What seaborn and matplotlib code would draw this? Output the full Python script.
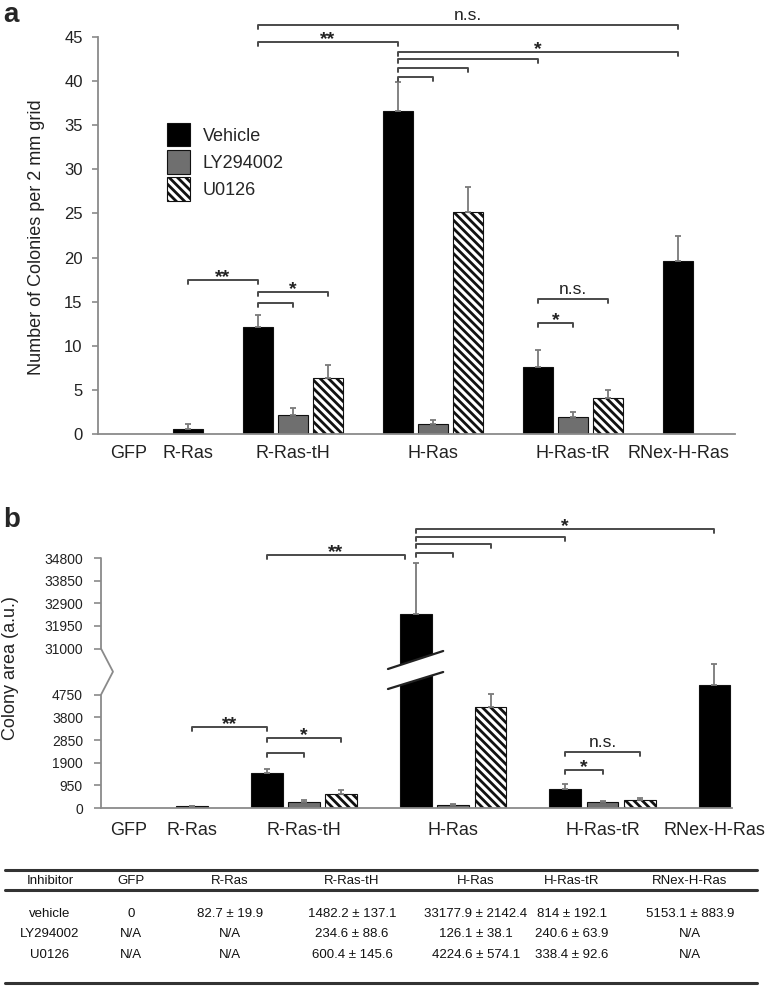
import numpy as np
import pandas as pd
import matplotlib
matplotlib.use('Agg')
import matplotlib.pyplot as plt
import matplotlib.transforms as mtrans
from matplotlib.patches import Patch, Polygon
from matplotlib.lines import Line2D
import seaborn as sns

# ---- data ----
categories = ['GFP', 'R-Ras', 'R-Ras-tH', 'H-Ras', 'H-Ras-tR', 'RNex-H-Ras']
treatments = ['Vehicle', 'LY294002', 'U0126']

# a: number of colonies per 2 mm grid
a_vehicle = [0, 0.6, 12.1, 36.6, 7.6, 19.6]
a_vehicle_err = [0, 0.5, 1.4, 3.3, 1.9, 2.8]
a_ly = [np.nan, np.nan, 2.2, 1.1, 1.9, np.nan]
a_ly_err = [np.nan, np.nan, 0.7, 0.5, 0.6, np.nan]
a_u0126 = [np.nan, np.nan, 6.3, 25.2, 4.1, np.nan]
a_u0126_err = [np.nan, np.nan, 1.5, 2.8, 0.9, np.nan]

# b: colony area (a.u.), H-Ras vehicle as drawn on the broken axis
b_vehicle = [0, 82.7, 1482.2, 32440, 814, 5153.1]
b_vehicle_err = [0, 19.9, 137.1, 2142.4, 192.1, 883.9]
b_ly = [np.nan, np.nan, 234.6, 126.1, 240.6, np.nan]
b_ly_err = [np.nan, np.nan, 88.6, 38.1, 63.9, np.nan]
b_u0126 = [np.nan, np.nan, 600.4, 4224.6, 338.4, np.nan]
b_u0126_err = [np.nan, np.nan, 145.6, 574.1, 92.6, np.nan]

a_yticks = [0, 5, 10, 15, 20, 25, 30, 35, 40, 45]
b_yticks_low = [0, 950, 1900, 2850, 3800, 4750]
b_yticks_high = [31000, 31950, 32900, 33850, 34800]

table_header = ['Inhibitor', 'GFP', 'R-Ras', 'R-Ras-tH', 'H-Ras', 'H-Ras-tR', 'RNex-H-Ras']
table_rows = [
    ['vehicle', '0', '82.7 ± 19.9', '1482.2 ± 137.1', '33177.9 ± 2142.4', '814 ± 192.1', '5153.1 ± 883.9'],
    ['LY294002', 'N/A', 'N/A', '234.6 ± 88.6', '126.1 ± 38.1', '240.6 ± 63.9', 'N/A'],
    ['U0126', 'N/A', 'N/A', '600.4 ± 145.6', '4224.6 ± 574.1', '338.4 ± 92.6', 'N/A'],
]

# significance brackets: (from slot, to slot, height, label)
a_brackets = [
    (-3, -1, 17.46, '**'), (-1, 0, 14.85, ''), (-1, 1, 16.1, '*'),
    (-1, 3, 44.43, '**'), (-1, 11, 46.36, 'n.s.'),
    (3, 11, 43.3, '*'), (3, 7, 42.5, ''), (3, 5, 41.5, ''), (3, 4, 40.47, ''),
    (7, 8, 12.6, '*'), (7, 9, 15.3, 'n.s.'),
]
b_brackets = [
    (-1, 2.7, 10610, '**'),
    (3, 11, 11700, '*'), (3, 7, 11365, ''), (3, 5, 11071, ''), (3, 4, 10694, ''),
    (-3, -1, 3397, '**'), (-1, 1, 2935, '*'), (-1, 0, 2306, ''),
    (7, 8, 1594, '*'), (7, 9, 2348, 'n.s.'),
]

# ---- layout ----
group_x = {'GFP': -4.7, 'R-Ras': -3, 'R-Ras-tH': 0, 'H-Ras': 4, 'H-Ras-tR': 8, 'RNex-H-Ras': 11}
shift = {'Vehicle': -1, 'LY294002': 0, 'U0126': 1}
palette = {'Vehicle': 'black', 'LY294002': '#6f6f6f', 'U0126': 'white'}
HATCH = chr(92) * 4   # back-slashes -> dense diagonal stripes
AXIS_C = '#8a8a8a'
BRACKET_C = '#4a4a4a'
B_LO, B_HI = 4750, 31000
B_SHIFT = B_HI - B_LO - 1934   # gap of the broken axis

W, H = 779, 988
def fx(px):
    return px / W
def fy(py):
    return 1 - py / H


def long_table(vals, errs):
    rows = []
    for trt, v, e in zip(treatments, vals, errs):
        for cat, vi, ei in zip(categories, v, e):
            if np.isnan(vi):
                continue
            rows.append(dict(category=cat, treatment=trt, value=vi, err=ei))
    df = pd.DataFrame(rows)
    n = df.groupby('category')['treatment'].transform('count')
    df['x'] = [group_x[c] + (shift[t] if k > 1 else 0)
               for c, t, k in zip(df['category'], df['treatment'], n)]
    return df


def draw_bars(ax, df, ycol, width):
    d = df[df[ycol] > 0]
    sns.barplot(data=d, x='x', y=ycol, hue='treatment', hue_order=treatments,
                palette=palette, native_scale=True, dodge=False, width=width,
                saturation=1, errorbar=None, edgecolor='#111111', linewidth=0.8,
                legend=False, ax=ax, zorder=2)
    for p in ax.patches:
        if p.get_facecolor()[0] > 0.95:
            p.set_hatch(HATCH)
    e = d[d['err'] > 0]
    ax.errorbar(e['x'], e[ycol], yerr=[np.zeros(len(e)), e['err']], fmt='none',
                ecolor='#7a7a7a', elinewidth=1.3, capsize=2.5, capthick=1.3, zorder=3)


def draw_brackets(ax, brackets, hook):
    for x1, x2, y, lab in brackets:
        ax.plot([x1, x1, x2, x2], [y - hook, y, y, y - hook], color=BRACKET_C,
                lw=1.4, clip_on=False, zorder=4, solid_capstyle='round')
        if lab == 'n.s.':
            ax.annotate(lab, xy=((x1 + x2) / 2, y), xytext=(0, 3.5), textcoords='offset points',
                        ha='center', va='baseline', fontsize=12.5, color='#222222',
                        annotation_clip=False)
        elif lab:
            ax.annotate(lab, xy=((x1 + x2) / 2, y), xytext=(0, -1.5), textcoords='offset points',
                        ha='center', va='baseline', fontsize=14, fontweight='bold',
                        color='#222222', annotation_clip=False)


sns.set_theme(style='white')
plt.rcParams['font.family'] = ['Liberation Sans', 'DejaVu Sans']
plt.rcParams['hatch.linewidth'] = 2.0
plt.rcParams['hatch.color'] = 'black'

fig = plt.figure(figsize=(W / 100, H / 100), dpi=100)

# ---- panel a ----
ax_a = fig.add_axes([fx(98), fy(434), (735 - 98) / W, (434 - 37) / H])
df_a = long_table([a_vehicle, a_ly, a_u0126], [a_vehicle_err, a_ly_err, a_u0126_err])
draw_bars(ax_a, df_a, 'value', 0.86)
ax_a.set_xlim(-5.57, 12.63)
ax_a.set_ylim(0, 45)
ax_a.set_yticks(a_yticks)
ax_a.set_xticks([group_x[c] for c in categories])
ax_a.set_xticklabels(categories)
ax_a.set_xlabel('')
ax_a.set_ylabel('Number of Colonies per 2 mm grid', fontsize=13, color='#222222')
ax_a.yaxis.set_label_coords(-0.083, 0.496)
for s in ['top', 'right']:
    ax_a.spines[s].set_visible(False)
for s in ['left', 'bottom']:
    ax_a.spines[s].set_color(AXIS_C)
    ax_a.spines[s].set_linewidth(1.3)
ax_a.tick_params(axis='y', left=True, length=4, width=1.2, color=AXIS_C, pad=7,
                 labelsize=12, labelcolor='#222222')
ax_a.tick_params(axis='x', bottom=False, length=0, pad=8, labelsize=13, labelcolor='#222222')
draw_brackets(ax_a, a_brackets, 0.45)

handles = [Patch(facecolor=palette[t], edgecolor='#111111', linewidth=0.8,
                 hatch=HATCH if t == 'U0126' else None, label=t) for t in treatments]
ax_a.legend(handles=handles, loc='upper left', bbox_to_anchor=(0.108, 0.783),
            frameon=False, fontsize=13, handlelength=1.28, handleheight=1.6,
            handletextpad=0.72, labelspacing=0.22, borderpad=0, borderaxespad=0)

# ---- panel b (broken y axis) ----
ax_b = fig.add_axes([fx(101), fy(808), (732 - 101) / W, (808 - 558) / H])
df_b = long_table([b_vehicle, b_ly, b_u0126], [b_vehicle_err, b_ly_err, b_u0126_err])
df_b['shown'] = np.where(df_b['value'] >= B_HI, df_b['value'] - B_SHIFT, df_b['value'])
draw_bars(ax_b, df_b, 'shown', 0.85)
ax_b.set_xlim(-5.44, 11.47)
ax_b.set_ylim(0, b_yticks_high[-1] - B_SHIFT)
ax_b.set_yticks(b_yticks_low + [v - B_SHIFT for v in b_yticks_high])
ax_b.set_yticklabels([str(v) for v in b_yticks_low + b_yticks_high])
ax_b.set_xticks([group_x[c] for c in categories])
ax_b.set_xticklabels(categories)
ax_b.set_xlabel('')
ax_b.set_ylabel('Colony area (a.u.)', fontsize=13, color='#222222')
ax_b.yaxis.set_label_coords(-0.13, 0.56)
for s in ['top', 'right', 'left']:
    ax_b.spines[s].set_visible(False)
ax_b.spines['bottom'].set_color(AXIS_C)
ax_b.spines['bottom'].set_linewidth(1.3)
ax_b.tick_params(axis='y', left=True, length=5, width=1.2, color=AXIS_C, pad=8,
                 labelsize=10, labelcolor='#222222')
ax_b.tick_params(axis='x', bottom=False, length=0, pad=10, labelsize=13, labelcolor='#222222')

# broken left spine with a zig-zag
tr = mtrans.blended_transform_factory(ax_b.transAxes, ax_b.transData)
gap_top = B_HI - B_SHIFT
ax_b.plot([0, 0, 0.019, 0, 0], [0, B_LO, (B_LO + gap_top) / 2, gap_top, b_yticks_high[-1] - B_SHIFT],
          transform=tr, color=AXIS_C, lw=1.3, clip_on=False, zorder=5)

# break mark across the H-Ras vehicle bar
hx = group_x['H-Ras'] + shift['Vehicle']
x0, x1 = hx - 0.75, hx + 0.73
ax_b.add_patch(Polygon([(x0, 4990), (x1, 5703), (x1, 6584), (x0, 5829)], closed=True,
                       facecolor='white', edgecolor='none', zorder=4))
ax_b.plot([x0, x1], [4990, 5703], color='#222222', lw=1.6, zorder=5)
ax_b.plot([x0, x1], [5829, 6584], color='#222222', lw=1.6, zorder=5)
draw_brackets(ax_b, b_brackets, 170)

# panel letters
fig.text(fx(3), fy(22), 'a', fontsize=20, fontweight='bold', va='baseline', ha='left')
fig.text(fx(3), fy(527), 'b', fontsize=20, fontweight='bold', va='baseline', ha='left')

# ---- table ----
col_x = [50, 131, 230, 352, 476, 572, 690]
for py in [870, 890, 983]:
    fig.add_artist(Line2D([fx(5), fx(757)], [fy(py), fy(py)], transform=fig.transFigure,
                          color='#333333', lw=2.2))
for cx, txt in zip(col_x, table_header):
    fig.text(fx(cx), fy(881), txt, fontsize=9.5, ha='center', va='center', color='#111111')
for py, row in zip([914, 934, 955], table_rows):
    for cx, txt in zip(col_x, row):
        fig.text(fx(cx), fy(py), txt, fontsize=9.5, ha='center', va='center', color='#111111')

fig.savefig('out.png', dpi=100)
